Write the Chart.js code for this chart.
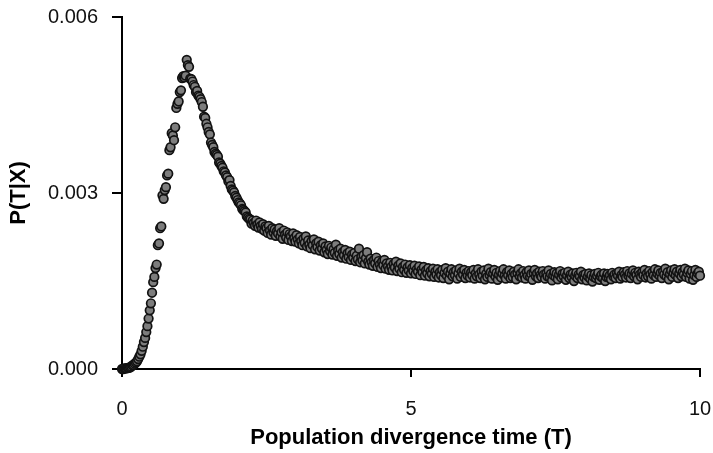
<!DOCTYPE html>
<html>
<head>
<meta charset="utf-8">
<script src="https://cdn.jsdelivr.net/npm/chart.js@4.4.1/dist/chart.umd.min.js"></script>
<style>
  html, body { margin: 0; padding: 0; background: #fff; }
  #wrap { width: 713px; height: 453px; }
</style>
</head>
<body>
<div id="wrap"><canvas id="chart" width="713" height="453"></canvas></div>
<script>
// divergence time T (x) and posterior density P(T|X) (y)
const timeValues = [
  0.00, 0.02, 0.04, 0.06, 0.08, 0.10, 0.12, 0.14, 0.16, 0.18,
  0.20, 0.22, 0.24, 0.26, 0.28, 0.30, 0.32, 0.34, 0.36, 0.38,
  0.40, 0.42, 0.44, 0.46, 0.48, 0.50, 0.52, 0.54, 0.56, 0.58,
  0.60, 0.62, 0.64, 0.66, 0.68, 0.70, 0.72, 0.74, 0.76, 0.78,
  0.80, 0.82, 0.84, 0.86, 0.88, 0.90, 0.92, 0.94, 0.96, 0.98,
  1.00, 1.02, 1.04, 1.06, 1.08, 1.10, 1.12, 1.14, 1.16, 1.18,
  1.20, 1.22, 1.24, 1.26, 1.28, 1.30, 1.32, 1.34, 1.36, 1.38,
  1.40, 1.42, 1.44, 1.46, 1.48, 1.50, 1.52, 1.54, 1.56, 1.58,
  1.60, 1.62, 1.64, 1.66, 1.68, 1.70, 1.72, 1.74, 1.76, 1.78,
  1.80, 1.82, 1.84, 1.86, 1.88, 1.90, 1.92, 1.94, 1.96, 1.98,
  2.00, 2.02, 2.04, 2.06, 2.08, 2.10, 2.12, 2.14, 2.16, 2.18,
  2.20, 2.22, 2.24, 2.26, 2.28, 2.30, 2.32, 2.34, 2.36, 2.38,
  2.40, 2.42, 2.44, 2.46, 2.48, 2.50, 2.52, 2.54, 2.56, 2.58,
  2.60, 2.62, 2.64, 2.66, 2.68, 2.70, 2.72, 2.74, 2.76, 2.78,
  2.80, 2.82, 2.84, 2.86, 2.88, 2.90, 2.92, 2.94, 2.96, 2.98,
  3.00, 3.02, 3.04, 3.06, 3.08, 3.10, 3.12, 3.14, 3.16, 3.18,
  3.20, 3.22, 3.24, 3.26, 3.28, 3.30, 3.32, 3.34, 3.36, 3.38,
  3.40, 3.42, 3.44, 3.46, 3.48, 3.50, 3.52, 3.54, 3.56, 3.58,
  3.60, 3.62, 3.64, 3.66, 3.68, 3.70, 3.72, 3.74, 3.76, 3.78,
  3.80, 3.82, 3.84, 3.86, 3.88, 3.90, 3.92, 3.94, 3.96, 3.98,
  4.00, 4.02, 4.04, 4.06, 4.08, 4.10, 4.12, 4.14, 4.16, 4.18,
  4.20, 4.22, 4.24, 4.26, 4.28, 4.30, 4.32, 4.34, 4.36, 4.38,
  4.40, 4.42, 4.44, 4.46, 4.48, 4.50, 4.52, 4.54, 4.56, 4.58,
  4.60, 4.62, 4.64, 4.66, 4.68, 4.70, 4.72, 4.74, 4.76, 4.78,
  4.80, 4.82, 4.84, 4.86, 4.88, 4.90, 4.92, 4.94, 4.96, 4.98,
  5.00, 5.02, 5.04, 5.06, 5.08, 5.10, 5.12, 5.14, 5.16, 5.18,
  5.20, 5.22, 5.24, 5.26, 5.28, 5.30, 5.32, 5.34, 5.36, 5.38,
  5.40, 5.42, 5.44, 5.46, 5.48, 5.50, 5.52, 5.54, 5.56, 5.58,
  5.60, 5.62, 5.64, 5.66, 5.68, 5.70, 5.72, 5.74, 5.76, 5.78,
  5.80, 5.82, 5.84, 5.86, 5.88, 5.90, 5.92, 5.94, 5.96, 5.98,
  6.00, 6.02, 6.04, 6.06, 6.08, 6.10, 6.12, 6.14, 6.16, 6.18,
  6.20, 6.22, 6.24, 6.26, 6.28, 6.30, 6.32, 6.34, 6.36, 6.38,
  6.40, 6.42, 6.44, 6.46, 6.48, 6.50, 6.52, 6.54, 6.56, 6.58,
  6.60, 6.62, 6.64, 6.66, 6.68, 6.70, 6.72, 6.74, 6.76, 6.78,
  6.80, 6.82, 6.84, 6.86, 6.88, 6.90, 6.92, 6.94, 6.96, 6.98,
  7.00, 7.02, 7.04, 7.06, 7.08, 7.10, 7.12, 7.14, 7.16, 7.18,
  7.20, 7.22, 7.24, 7.26, 7.28, 7.30, 7.32, 7.34, 7.36, 7.38,
  7.40, 7.42, 7.44, 7.46, 7.48, 7.50, 7.52, 7.54, 7.56, 7.58,
  7.60, 7.62, 7.64, 7.66, 7.68, 7.70, 7.72, 7.74, 7.76, 7.78,
  7.80, 7.82, 7.84, 7.86, 7.88, 7.90, 7.92, 7.94, 7.96, 7.98,
  8.00, 8.02, 8.04, 8.06, 8.08, 8.10, 8.12, 8.14, 8.16, 8.18,
  8.20, 8.22, 8.24, 8.26, 8.28, 8.30, 8.32, 8.34, 8.36, 8.38,
  8.40, 8.42, 8.44, 8.46, 8.48, 8.50, 8.52, 8.54, 8.56, 8.58,
  8.60, 8.62, 8.64, 8.66, 8.68, 8.70, 8.72, 8.74, 8.76, 8.78,
  8.80, 8.82, 8.84, 8.86, 8.88, 8.90, 8.92, 8.94, 8.96, 8.98,
  9.00, 9.02, 9.04, 9.06, 9.08, 9.10, 9.12, 9.14, 9.16, 9.18,
  9.20, 9.22, 9.24, 9.26, 9.28, 9.30, 9.32, 9.34, 9.36, 9.38,
  9.40, 9.42, 9.44, 9.46, 9.48, 9.50, 9.52, 9.54, 9.56, 9.58,
  9.60, 9.62, 9.64, 9.66, 9.68, 9.70, 9.72, 9.74, 9.76, 9.78,
  9.80, 9.82, 9.84, 9.86, 9.88, 9.90, 9.92, 9.94, 9.96, 9.98,
  10.00
];

const densityValues = [
  0.00000, 0.00000, 0.00001, 0.00001, 0.00001, 0.00002, 0.00002, 0.00003, 0.00004, 0.00006,
  0.00007, 0.00009, 0.00011, 0.00013, 0.00017, 0.00021, 0.00025, 0.00031, 0.00038, 0.00046,
  0.00053, 0.00063, 0.00073, 0.00086, 0.00100, 0.00112, 0.00130, 0.00148, 0.00157, 0.00172,
  0.00178, 0.00211, 0.00214, 0.00240, 0.00243, 0.00296, 0.00290, 0.00305, 0.00310, 0.00330,
  0.00333, 0.00373, 0.00378, 0.00402, 0.00398, 0.00390, 0.00412, 0.00445, 0.00452, 0.00456,
  0.00472, 0.00475, 0.00496, 0.00499, 0.00497, 0.00500, 0.00527, 0.00518, 0.00515, 0.00495,
  0.00494, 0.00490, 0.00484, 0.00481, 0.00472, 0.00474, 0.00466, 0.00464, 0.00460, 0.00455,
  0.00447, 0.00430, 0.00428, 0.00418, 0.00412, 0.00404, 0.00400, 0.00386, 0.00382, 0.00378,
  0.00370, 0.00367, 0.00365, 0.00362, 0.00352, 0.00350, 0.00346, 0.00343, 0.00337, 0.00335,
  0.00330, 0.00327, 0.00320, 0.00322, 0.00312, 0.00306, 0.00304, 0.00301, 0.00295, 0.00292,
  0.00288, 0.00284, 0.00282, 0.00279, 0.00273, 0.00271, 0.00269, 0.00267, 0.00260, 0.00258,
  0.00256, 0.00255, 0.00248, 0.00253, 0.00249, 0.00244, 0.00253, 0.00246, 0.00241, 0.00250,
  0.00244, 0.00239, 0.00247, 0.00236, 0.00243, 0.00240, 0.00232, 0.00244, 0.00236, 0.00229,
  0.00240, 0.00233, 0.00238, 0.00227, 0.00235, 0.00231, 0.00240, 0.00226, 0.00233, 0.00222,
  0.00236, 0.00229, 0.00224, 0.00233, 0.00220, 0.00230, 0.00226, 0.00218, 0.00231, 0.00223,
  0.00217, 0.00228, 0.00221, 0.00214, 0.00225, 0.00218, 0.00211, 0.00222, 0.00215, 0.00226,
  0.00209, 0.00219, 0.00212, 0.00206, 0.00218, 0.00211, 0.00221, 0.00204, 0.00214, 0.00208,
  0.00217, 0.00202, 0.00211, 0.00205, 0.00214, 0.00199, 0.00209, 0.00203, 0.00196, 0.00210,
  0.00201, 0.00207, 0.00195, 0.00204, 0.00198, 0.00212, 0.00193, 0.00202, 0.00196, 0.00205,
  0.00190, 0.00199, 0.00194, 0.00203, 0.00188, 0.00197, 0.00191, 0.00200, 0.00186, 0.00195,
  0.00190, 0.00198, 0.00184, 0.00193, 0.00187, 0.00205, 0.00182, 0.00191, 0.00185, 0.00194,
  0.00180, 0.00189, 0.00199, 0.00183, 0.00178, 0.00188, 0.00182, 0.00176, 0.00186, 0.00180,
  0.00190, 0.00174, 0.00184, 0.00178, 0.00172, 0.00183, 0.00177, 0.00186, 0.00171, 0.00180,
  0.00175, 0.00169, 0.00181, 0.00174, 0.00168, 0.00179, 0.00173, 0.00183, 0.00167, 0.00176,
  0.00171, 0.00180, 0.00165, 0.00174, 0.00169, 0.00178, 0.00164, 0.00173, 0.00168, 0.00177,
  0.00163, 0.00172, 0.00167, 0.00176, 0.00162, 0.00170, 0.00166, 0.00175, 0.00160, 0.00169,
  0.00165, 0.00174, 0.00159, 0.00168, 0.00163, 0.00172, 0.00158, 0.00167, 0.00162, 0.00171,
  0.00157, 0.00166, 0.00161, 0.00170, 0.00156, 0.00165, 0.00160, 0.00169, 0.00155, 0.00164,
  0.00172, 0.00159, 0.00166, 0.00153, 0.00163, 0.00170, 0.00158, 0.00165, 0.00160, 0.00168,
  0.00154, 0.00163, 0.00171, 0.00157, 0.00166, 0.00161, 0.00169, 0.00155, 0.00164, 0.00159,
  0.00167, 0.00156, 0.00165, 0.00160, 0.00169, 0.00154, 0.00163, 0.00158, 0.00170, 0.00161,
  0.00155, 0.00166, 0.00159, 0.00168, 0.00153, 0.00162, 0.00157, 0.00171, 0.00160, 0.00165,
  0.00154, 0.00163, 0.00169, 0.00158, 0.00164, 0.00152, 0.00161, 0.00167, 0.00156, 0.00163,
  0.00170, 0.00159, 0.00154, 0.00165, 0.00160, 0.00168, 0.00155, 0.00162, 0.00157, 0.00166,
  0.00161, 0.00153, 0.00164, 0.00170, 0.00158, 0.00163, 0.00156, 0.00167, 0.00160, 0.00154,
  0.00165, 0.00159, 0.00168, 0.00157, 0.00162, 0.00152, 0.00164, 0.00169, 0.00158, 0.00163,
  0.00155, 0.00166, 0.00160, 0.00157, 0.00167, 0.00161, 0.00154, 0.00163, 0.00158, 0.00168,
  0.00156, 0.00162, 0.00151, 0.00160, 0.00165, 0.00157, 0.00163, 0.00153, 0.00161, 0.00167,
  0.00156, 0.00162, 0.00158, 0.00164, 0.00152, 0.00160, 0.00166, 0.00155, 0.00161, 0.00157,
  0.00163, 0.00150, 0.00159, 0.00164, 0.00155, 0.00161, 0.00158, 0.00166, 0.00153, 0.00160,
  0.00156, 0.00162, 0.00151, 0.00158, 0.00163, 0.00154, 0.00160, 0.00149, 0.00157, 0.00162,
  0.00155, 0.00159, 0.00164, 0.00152, 0.00158, 0.00161, 0.00155, 0.00163, 0.00150, 0.00157,
  0.00162, 0.00156, 0.00160, 0.00153, 0.00164, 0.00158, 0.00161, 0.00155, 0.00163, 0.00159,
  0.00166, 0.00154, 0.00160, 0.00157, 0.00165, 0.00161, 0.00156, 0.00167, 0.00159, 0.00163,
  0.00155, 0.00162, 0.00168, 0.00158, 0.00164, 0.00160, 0.00153, 0.00166, 0.00161, 0.00157,
  0.00165, 0.00160, 0.00169, 0.00156, 0.00163, 0.00158, 0.00167, 0.00161, 0.00154, 0.00165,
  0.00160, 0.00170, 0.00157, 0.00163, 0.00168, 0.00159, 0.00164, 0.00155, 0.00166, 0.00161,
  0.00171, 0.00158, 0.00165, 0.00153, 0.00162, 0.00168, 0.00157, 0.00164, 0.00170, 0.00160,
  0.00166, 0.00155, 0.00163, 0.00169, 0.00158, 0.00165, 0.00161, 0.00171, 0.00157, 0.00164,
  0.00168, 0.00154, 0.00162, 0.00167, 0.00152, 0.00160, 0.00169, 0.00157, 0.00163, 0.00166,
  0.00159
];

const xTicks = [0, 5, 10];
const yTicks = [0.000, 0.003, 0.006];

const points = timeValues.map((t, i) => ({ x: t, y: densityValues[i] }));

const axisFont = { family: 'Liberation Sans, Arial, sans-serif', size: 20 };
const titleFont = { family: 'Liberation Sans, Arial, sans-serif', size: 22, weight: 'bold' };

new Chart(document.getElementById('chart'), {
  type: 'scatter',
  data: {
    datasets: [{
      data: points,
      pointRadius: 4.3,
      pointBorderWidth: 1.7,
      pointBackgroundColor: '#7d7d7d',
      pointBorderColor: '#121212',
      clip: false
    }]
  },
  options: {
    responsive: false,
    animation: false,
    events: [],
    layout: { padding: { top: 17, right: 13, bottom: 0, left: 0 } },
    plugins: { legend: { display: false }, tooltip: { enabled: false } },
    scales: {
      x: {
        type: 'linear',
        min: 0,
        max: 10,
        afterBuildTicks: s => { s.ticks = xTicks.map(v => ({ value: v })); },
        afterFit: s => { s.height = 84; s.paddingLeft = 0; s.paddingRight = 0; },
        ticks: { color: '#111', font: axisFont, padding: 20, maxRotation: 0 },
        grid: { drawOnChartArea: false, drawTicks: true, tickLength: 8, color: '#000', lineWidth: 2 },
        border: { display: true, color: '#000', width: 2 },
        title: { display: true, text: 'Population divergence time (T)', color: '#000', font: titleFont, padding: { top: 0, bottom: 2 } }
      },
      y: {
        type: 'linear',
        min: 0,
        max: 0.006,
        afterBuildTicks: s => { s.ticks = yTicks.map(v => ({ value: v })); },
        afterFit: s => { s.width = 122; s.paddingTop = 0; s.paddingBottom = 0; },
        ticks: { color: '#111', font: axisFont, padding: 14, callback: v => v.toFixed(3) },
        grid: { drawOnChartArea: false, drawTicks: true, tickLength: 10, color: '#000', lineWidth: 2 },
        border: { display: true, color: '#000', width: 2 },
        title: { display: true, text: 'P(T|X)', color: '#000', font: titleFont, padding: { top: 6, bottom: 0 } }
      }
    }
  }
});
</script>
</body>
</html>
